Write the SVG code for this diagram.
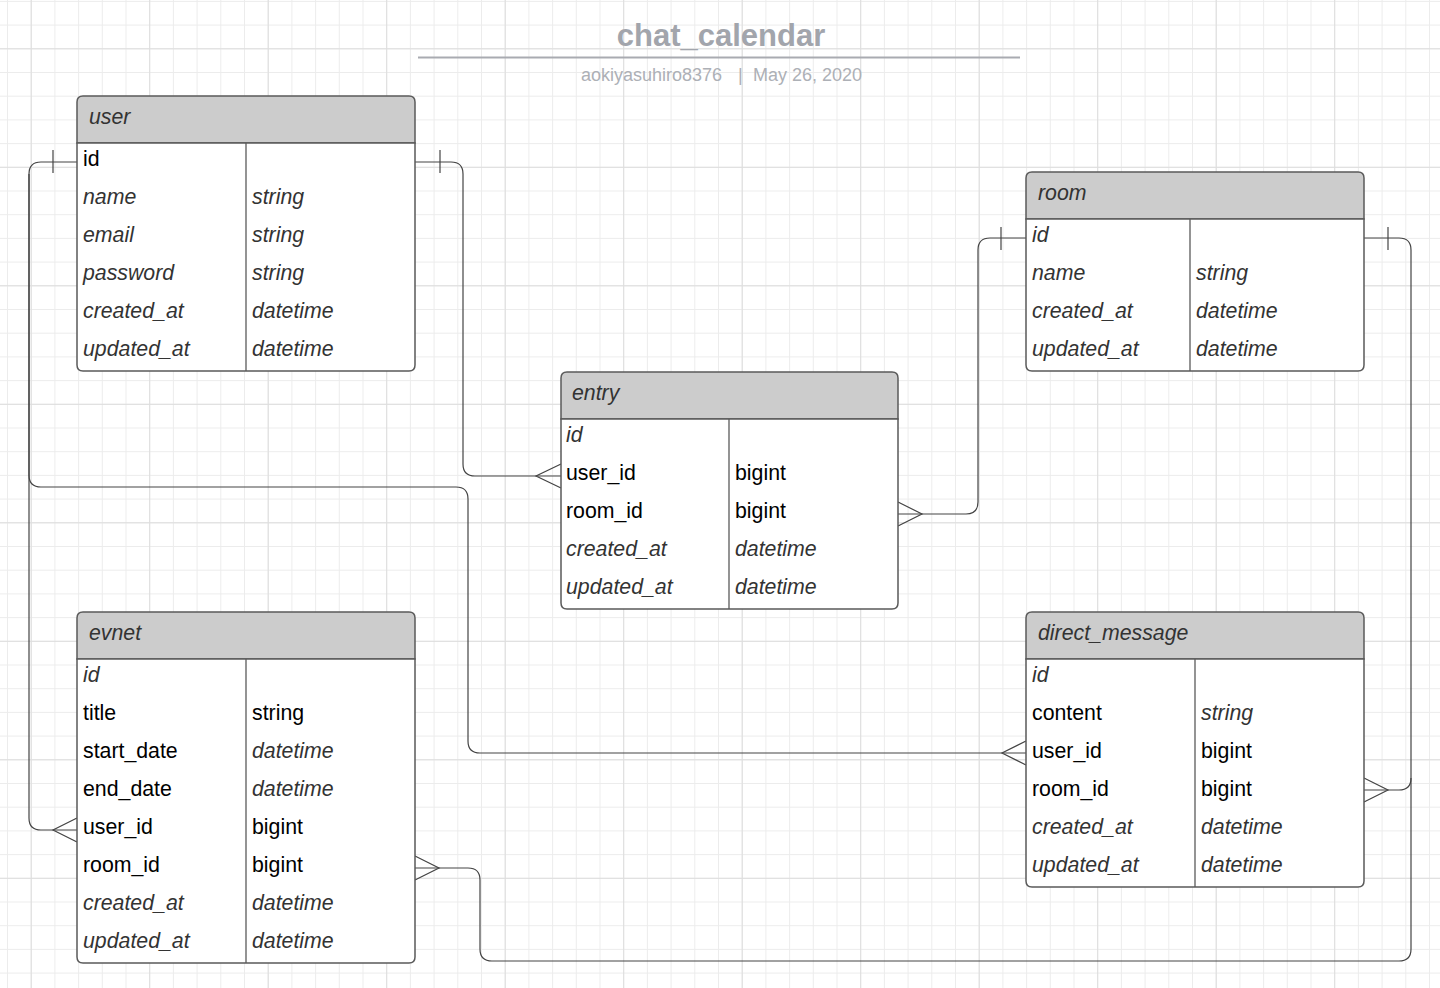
<svg xmlns="http://www.w3.org/2000/svg" width="1440" height="988" viewBox="0 0 1440 988">
<defs>
<pattern id="gminor" patternUnits="userSpaceOnUse" x="7" y="0.9" width="23.7" height="23.7">
<path d="M0,0.5 H23.7 M0.5,0 V23.7" fill="none" stroke="#ececec" stroke-width="1"/>
</pattern>
<pattern id="gmajor" patternUnits="userSpaceOnUse" x="30.7" y="48.3" width="118.5" height="118.5">
<path d="M0,0.5 H118.5 M0.5,0 V118.5" fill="none" stroke="#dddddd" stroke-width="1"/>
</pattern>
<style>
.t{font-family:"Liberation Sans",Arial,sans-serif;font-size:21.3px;fill:#000}
.i{font-style:italic;fill:#333}
.hd{fill:#cccccc;stroke:#5a5a5a;stroke-width:1.5}
.bd{fill:#ffffff;stroke:#5a5a5a;stroke-width:1.5}
.dv{stroke:#5a5a5a;stroke-width:1.3}
.cn{fill:none;stroke:#444;stroke-width:1.2}
.sub{font-family:"Liberation Sans",Arial,sans-serif;font-size:18px;fill:#adb0b6}
</style>
</defs>
<rect width="1440" height="988" fill="#ffffff"/>
<rect width="1440" height="988" fill="url(#gminor)"/>
<rect width="1440" height="988" fill="url(#gmajor)"/>

<g id="title">
<text x="721" y="46" text-anchor="middle" style="font-family:'Liberation Sans',Arial,sans-serif;font-size:31px;font-weight:bold;fill:#a2a5ac">chat_calendar</text>
<line x1="418" y1="57.5" x2="1020" y2="57.5" stroke="#a9abb1" stroke-width="2"/>
<text class="sub" x="581" y="81">aokiyasuhiro8376</text>
<text class="sub" x="738" y="81">|</text>
<text class="sub" x="753" y="81">May 26, 2020</text>
</g>

<g id="connectors">
<!-- user.id -> evnet.user_id -->
<path class="cn" d="M77,162 H41 Q29,162 29,174 V818 Q29,830 41,830 H77"/>
<path class="cn" d="M53,150 V173"/>
<path class="cn" d="M77,818 L53,830 L77,842"/>
<!-- user.id -> direct_message.user_id -->
<path class="cn" d="M29,174 V475 Q29,487 41,487 H456 Q468,487 468,499 V741 Q468,753 480,753 H1026"/>
<path class="cn" d="M1026,741 L1002,753 L1026,765"/>
<!-- user.id -> entry.user_id -->
<path class="cn" d="M415,162 H451 Q463,162 463,174 V464 Q463,476 475,476 H561"/>
<path class="cn" d="M440,150 V173"/>
<path class="cn" d="M561,464 L536,476 L561,488"/>
<!-- room.id -> entry.room_id -->
<path class="cn" d="M1026,238 H990 Q978,238 978,250 V502 Q978,514 966,514 H898"/>
<path class="cn" d="M1001,227 V250"/>
<path class="cn" d="M898,502 L922,514 L898,526"/>
<!-- room.id -> direct_message.room_id -->
<path class="cn" d="M1364,238 H1399 Q1411,238 1411,250 V778 Q1411,790 1399,790 H1364"/>
<path class="cn" d="M1388,227 V250"/>
<path class="cn" d="M1364,778 L1388,790 L1364,802"/>
<!-- room.id -> evnet.room_id -->
<path class="cn" d="M415,868 H468 Q480,868 480,880 V949 Q480,961 492,961 H1399 Q1411,961 1411,949 V778"/>
<path class="cn" d="M415,856 L439,868 L415,880"/>
</g>

<g id="user">
<path class="hd" d="M77,143 V102 Q77,96 83,96 H409 Q415,96 415,102 V143 Z"/>
<path class="bd" d="M77,143 H415 V365 Q415,371 409,371 H83 Q77,371 77,365 Z"/>
<line class="dv" x1="246" y1="143" x2="246" y2="371"/>
<text class="t i" x="89" y="124">user</text>
<text class="t" x="83" y="166">id</text>
<text class="t i" x="83" y="204">name</text><text class="t i" x="252" y="204">string</text>
<text class="t i" x="83" y="242">email</text><text class="t i" x="252" y="242">string</text>
<text class="t i" x="83" y="280">password</text><text class="t i" x="252" y="280">string</text>
<text class="t i" x="83" y="318">created_at</text><text class="t i" x="252" y="318">datetime</text>
<text class="t i" x="83" y="356">updated_at</text><text class="t i" x="252" y="356">datetime</text>
</g>

<g id="room">
<path class="hd" d="M1026,219 V178 Q1026,172 1032,172 H1358 Q1364,172 1364,178 V219 Z"/>
<path class="bd" d="M1026,219 H1364 V365 Q1364,371 1358,371 H1032 Q1026,371 1026,365 Z"/>
<line class="dv" x1="1190" y1="219" x2="1190" y2="371"/>
<text class="t i" x="1038" y="200">room</text>
<text class="t i" x="1032" y="242">id</text>
<text class="t i" x="1032" y="280">name</text><text class="t i" x="1196" y="280">string</text>
<text class="t i" x="1032" y="318">created_at</text><text class="t i" x="1196" y="318">datetime</text>
<text class="t i" x="1032" y="356">updated_at</text><text class="t i" x="1196" y="356">datetime</text>
</g>

<g id="entry">
<path class="hd" d="M561,419 V378 Q561,372 567,372 H892 Q898,372 898,378 V419 Z"/>
<path class="bd" d="M561,419 H898 V603 Q898,609 892,609 H567 Q561,609 561,603 Z"/>
<line class="dv" x1="729" y1="419" x2="729" y2="609"/>
<text class="t i" x="572" y="400">entry</text>
<text class="t i" x="566" y="442">id</text>
<text class="t" x="566" y="480">user_id</text><text class="t" x="735" y="480">bigint</text>
<text class="t" x="566" y="518">room_id</text><text class="t" x="735" y="518">bigint</text>
<text class="t i" x="566" y="556">created_at</text><text class="t i" x="735" y="556">datetime</text>
<text class="t i" x="566" y="594">updated_at</text><text class="t i" x="735" y="594">datetime</text>
</g>

<g id="evnet">
<path class="hd" d="M77,659 V618 Q77,612 83,612 H409 Q415,612 415,618 V659 Z"/>
<path class="bd" d="M77,659 H415 V957 Q415,963 409,963 H83 Q77,963 77,957 Z"/>
<line class="dv" x1="246" y1="659" x2="246" y2="963"/>
<text class="t i" x="89" y="640">evnet</text>
<text class="t i" x="83" y="682">id</text>
<text class="t" x="83" y="720">title</text><text class="t" x="252" y="720">string</text>
<text class="t" x="83" y="758">start_date</text><text class="t i" x="252" y="758">datetime</text>
<text class="t" x="83" y="796">end_date</text><text class="t i" x="252" y="796">datetime</text>
<text class="t" x="83" y="834">user_id</text><text class="t" x="252" y="834">bigint</text>
<text class="t" x="83" y="872">room_id</text><text class="t" x="252" y="872">bigint</text>
<text class="t i" x="83" y="910">created_at</text><text class="t i" x="252" y="910">datetime</text>
<text class="t i" x="83" y="948">updated_at</text><text class="t i" x="252" y="948">datetime</text>
</g>

<g id="direct_message">
<path class="hd" d="M1026,659 V618 Q1026,612 1032,612 H1358 Q1364,612 1364,618 V659 Z"/>
<path class="bd" d="M1026,659 H1364 V881 Q1364,887 1358,887 H1032 Q1026,887 1026,881 Z"/>
<line class="dv" x1="1195" y1="659" x2="1195" y2="887"/>
<text class="t i" x="1038" y="640">direct_message</text>
<text class="t i" x="1032" y="682">id</text>
<text class="t" x="1032" y="720">content</text><text class="t i" x="1201" y="720">string</text>
<text class="t" x="1032" y="758">user_id</text><text class="t" x="1201" y="758">bigint</text>
<text class="t" x="1032" y="796">room_id</text><text class="t" x="1201" y="796">bigint</text>
<text class="t i" x="1032" y="834">created_at</text><text class="t i" x="1201" y="834">datetime</text>
<text class="t i" x="1032" y="872">updated_at</text><text class="t i" x="1201" y="872">datetime</text>
</g>
</svg>
